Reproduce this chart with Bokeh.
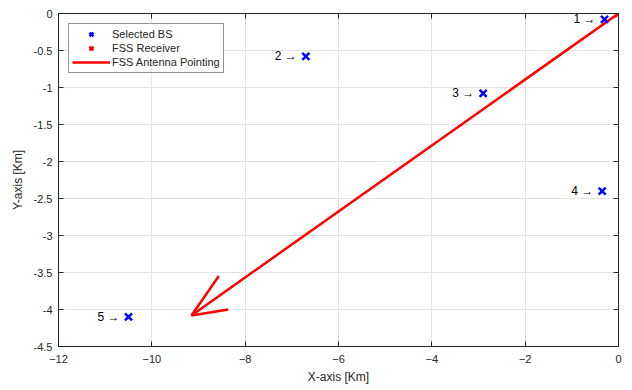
from bokeh.plotting import figure
from bokeh.models import (LinearAxis, FixedTicker, Legend, LegendItem, Range1d,
                          ColumnDataSource)
from bokeh.core.properties import value
from bokeh.embed import file_html
from bokeh.resources import INLINE

# ---- data (km) ----
bs_x = [-0.3, -6.7, -2.9, -0.35, -10.5]
bs_y = [-0.08, -0.58, -1.08, -2.4, -4.1]
bs_labels = ["1 \u2192", "2 \u2192", "3 \u2192", "4 \u2192", "5 \u2192"]
fss_x = [0.0]
fss_y = [0.0]
point_u = -9.15   # antenna pointing vector
point_v = -4.08
x_ticks = [-12, -10, -8, -6, -4, -2, 0]
y_ticks = [0, -0.5, -1, -1.5, -2, -2.5, -3, -3.5, -4, -4.5]

FONT = "Liberation Sans"
AX = "#262626"

p = figure(width=632, height=390, output_backend="svg", toolbar_location=None,
           x_range=Range1d(-12, 0), y_range=Range1d(-4.5, 0),
           min_border_left=58, min_border_right=14, min_border_top=13,
           min_border_bottom=44, background_fill_color="white",
           border_fill_color="white", outline_line_color=AX)

p.xaxis.ticker = FixedTicker(ticks=x_ticks)
p.yaxis.ticker = FixedTicker(ticks=y_ticks)
p.yaxis.major_label_overrides = {t: ("%g" % t) for t in y_ticks}
for ax in (p.xaxis[0], p.yaxis[0]):
    ax.major_tick_in = 5
    ax.major_tick_out = 0
    ax.minor_tick_in = 0
    ax.minor_tick_out = 0
    ax.axis_line_color = AX
    ax.major_tick_line_color = AX
    ax.major_label_text_font = FONT
    ax.major_label_text_font_size = "11px"
    ax.major_label_text_color = AX
    ax.axis_label_text_font = FONT
    ax.axis_label_text_font_size = "12px"
    ax.axis_label_text_font_style = "normal"
    ax.axis_label_text_color = AX
p.xaxis.axis_label = "X-axis [Km]"
p.yaxis.axis_label = "Y-axis [Km]"
p.xaxis.major_label_standoff = 8
p.xaxis.axis_label_standoff = 4
p.yaxis.major_label_standoff = 6
p.yaxis.axis_label_standoff = 6

for loc, tk in (("right", y_ticks), ("above", x_ticks)):
    a = LinearAxis(ticker=FixedTicker(ticks=tk), major_tick_in=5, major_tick_out=0,
                   minor_tick_in=0, minor_tick_out=0,
                   major_label_overrides={t: "" for t in tk},
                   major_label_standoff=0,
                   axis_line_color=AX, major_tick_line_color=AX)
    p.add_layout(a, loc)

p.grid.grid_line_color = "#e3e3e3"
p.grid.grid_line_width = 1

# arrow shaft
shaft = p.line([fss_x[0], fss_x[0] + point_u], [fss_y[0], fss_y[0] + point_v],
               line_color="red", line_width=2.5)
# quiver-style head computed from vector
alpha, beta = 0.075, 0.33
tx, ty = fss_x[0] + point_u, fss_y[0] + point_v
hx = [tx - alpha * (point_u + beta * point_v), tx, tx - alpha * (point_u - beta * point_v)]
hy = [ty - alpha * (point_v - beta * point_u), ty, ty - alpha * (point_v + beta * point_u)]
p.line(hx, hy, line_color="red", line_width=2.5)

bs = p.scatter(bs_x, bs_y, marker="x", size=10, line_color="blue", line_width=2.5)
fss = p.scatter(fss_x, fss_y, marker="x", size=10, line_color="red", line_width=2.5)

src = ColumnDataSource(dict(x=bs_x, y=bs_y, t=bs_labels))
p.text("x", "y", text="t", source=src, x_offset=-9, text_align="right",
       text_baseline="middle", text_font=value(FONT), text_font_size="12px",
       text_color="black")

legend = Legend(items=[LegendItem(label="Selected BS", renderers=[bs]),
                       LegendItem(label="FSS Receiver", renderers=[fss]),
                       LegendItem(label="FSS Antenna Pointing", renderers=[shaft])],
                location="top_left", margin=10, padding=3, spacing=0,
                glyph_width=38, glyph_height=14, label_height=14,
                label_standoff=2, label_text_font=FONT, label_text_font_size="11px",
                label_text_color=AX, border_line_color=AX, border_line_width=1,
                background_fill_alpha=1)
p.add_layout(legend, "center")

open("out.html", "w").write(file_html(p, INLINE))
